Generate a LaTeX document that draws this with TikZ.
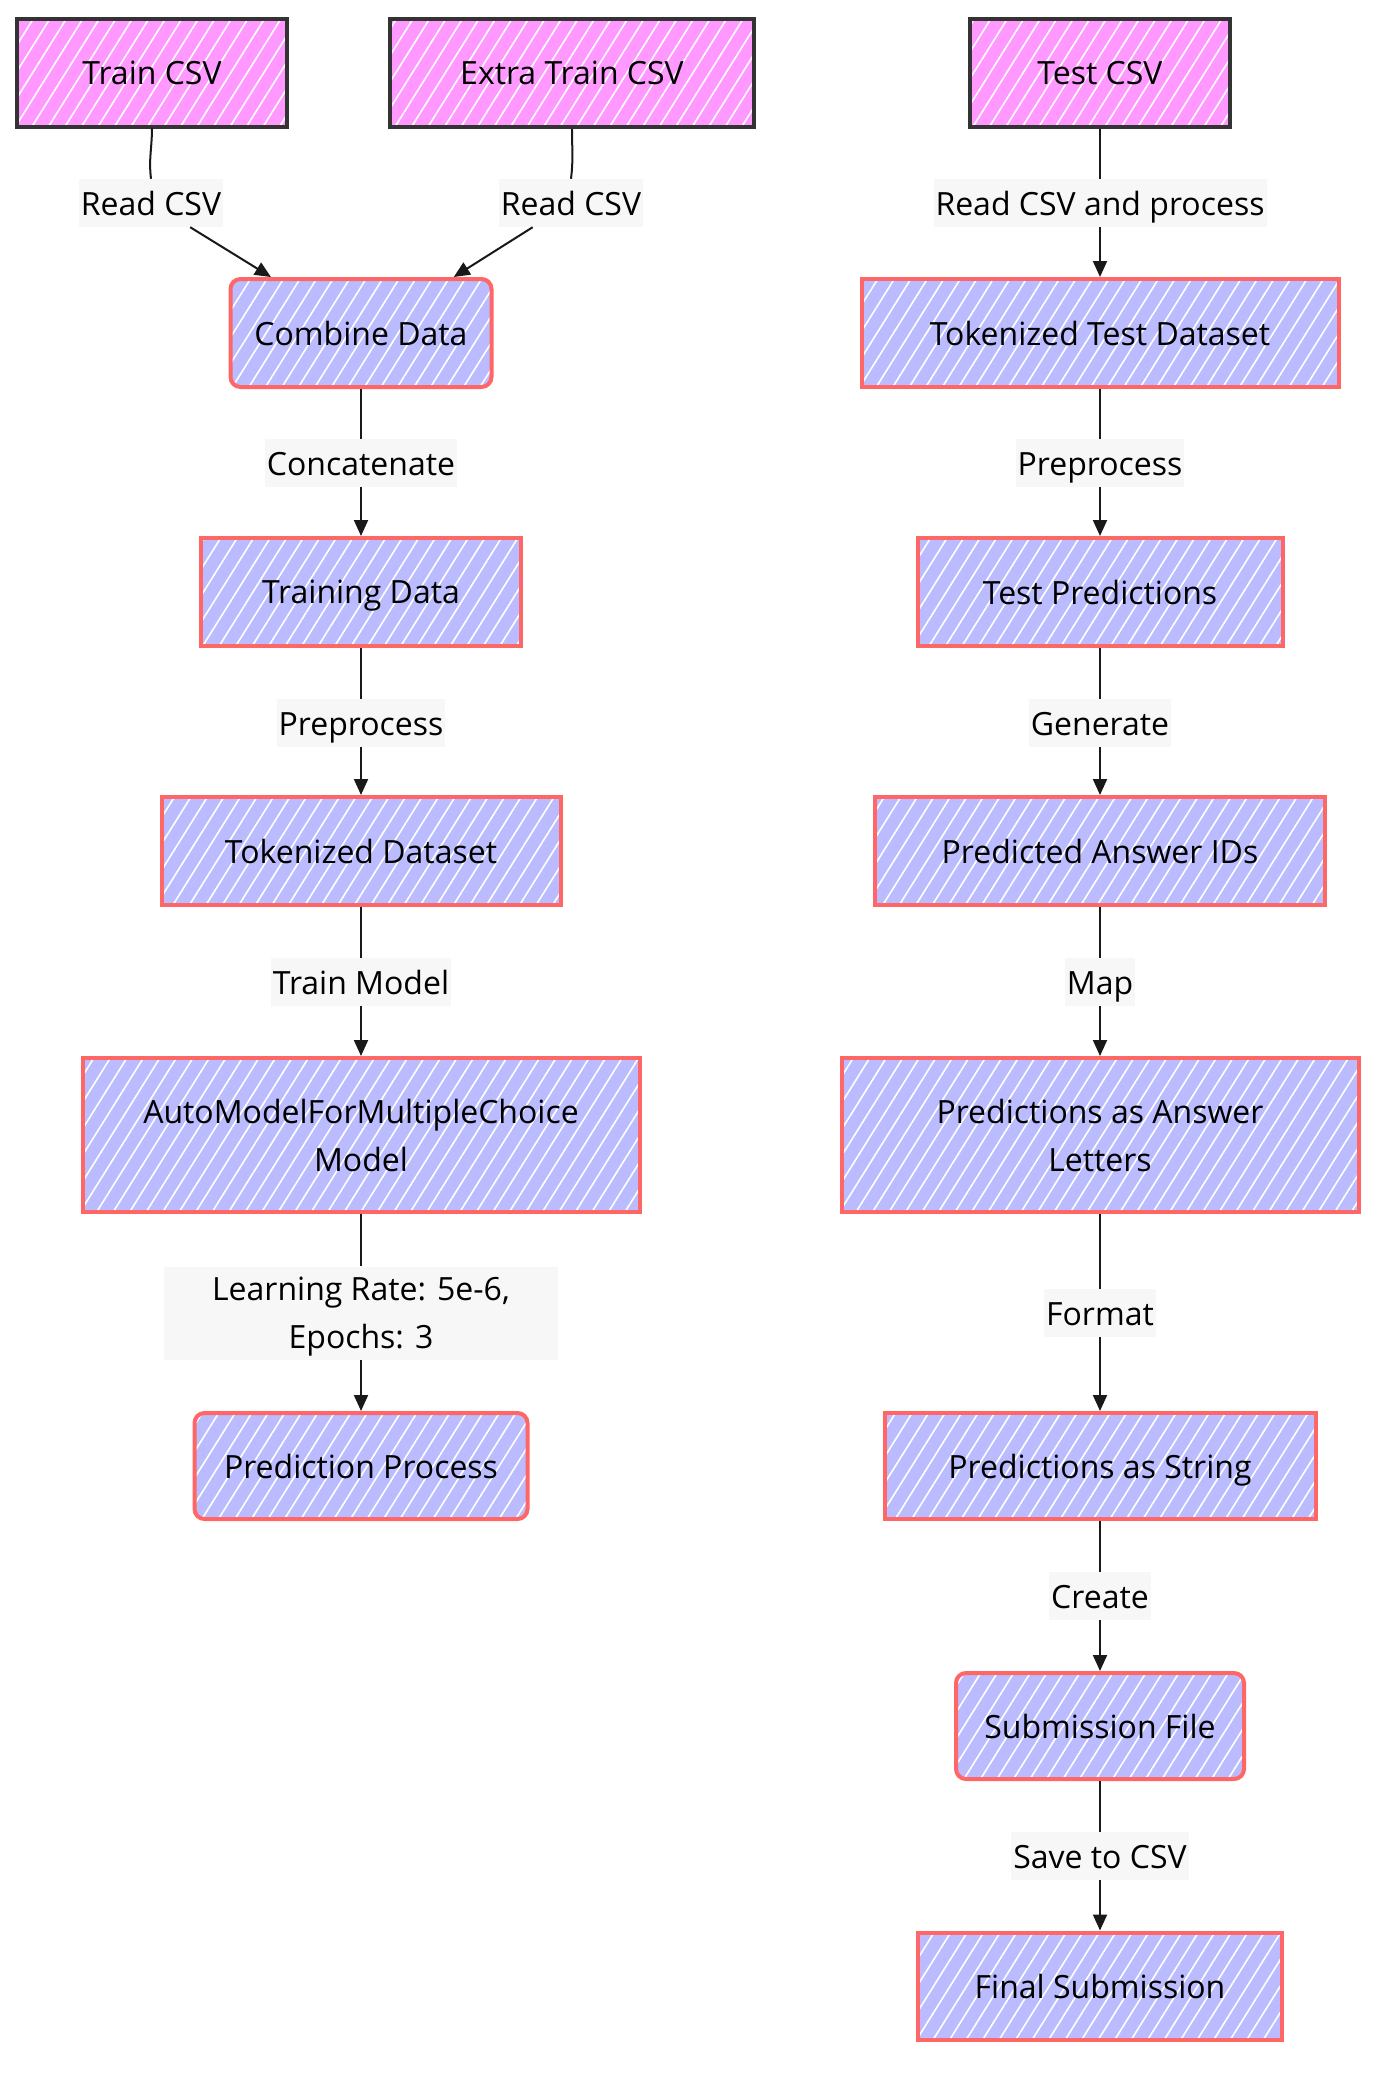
\documentclass[tikz,border=0pt]{standalone}
\usepackage{fontspec}
\setmainfont{Open Sans}
\usetikzlibrary{arrows.meta,patterns.meta,calc}
\definecolor{pinkF}{HTML}{FF99FF}
\definecolor{blueF}{HTML}{BBBBFF}
\definecolor{redS}{HTML}{FF6666}
\definecolor{darkS}{HTML}{333333}
\definecolor{lblbg}{HTML}{F7F7F7}
\tikzset{
 base/.style={draw, line width=4pt, minimum height=108pt, inner sep=0pt, align=center,
   font=\fontsize{32}{48}\selectfont, text depth=0pt,
   pattern={Lines[angle=58,distance=14pt,line width=1.6pt]}, pattern color=white},
 src/.style={base, preaction={fill=pinkF}, draw=darkS},
 proc/.style={base, preaction={fill=blueF}, draw=redS},
 rproc/.style={proc, rounded corners=10pt},
 lbl/.style={fill=lblbg, font=\fontsize{32}{48}\selectfont, inner xsep=2pt, inner ysep=8pt,
   text height=28pt, text depth=4pt},
 lbltwo/.style={fill=lblbg, font=\fontsize{32}{48}\selectfont, inner ysep=7pt, align=center,
   text height=75pt, text depth=4pt},
 edge/.style={line width=2pt, draw=black!90},
 arr/.style={edge, -{Triangle[length=16pt,width=14pt]}},
}
\begin{document}
\begin{tikzpicture}[x=1pt,y=-1pt]
\useasboundingbox (0,0) rectangle (1392,2080);
% source nodes
\node[src, minimum width=270pt] (tcsv) at (152,73) {Train CSV};
\node[src, minimum width=364pt] (ecsv) at (572,73) {Extra Train CSV};
\node[src, minimum width=260pt] (testcsv) at (1100,73) {Test CSV};
% left column
\node[rproc, minimum width=261pt] (combine) at (361,333) {Combine Data};
\node[proc, minimum width=320pt] (training) at (361,592) {Training Data};
\node[proc, minimum width=399pt] (tokds) at (361,851) {Tokenized Dataset};
\node[proc, minimum width=557pt, minimum height=154pt] (automodel) at (361,1135) {AutoModelForMultipleChoice\\Model};
\node[rproc, minimum width=333pt, minimum height=106pt] (predproc) at (361,1466) {Prediction Process};
% right column
\node[proc, minimum width=477pt] (toktest) at (1100,333) {Tokenized Test Dataset};
\node[proc, minimum width=365pt] (testpred) at (1100,592) {Test Predictions};
\node[proc, minimum width=450pt] (predids) at (1100,851) {Predicted Answer IDs};
\node[proc, minimum width=517pt, minimum height=154pt] (letters) at (1100,1135) {Predictions as Answer\\Letters};
\node[proc, minimum width=431pt, minimum height=106pt] (predstr) at (1100,1466) {Predictions as String};
\node[rproc, minimum width=288pt, minimum height=106pt] (subfile) at (1100,1726) {Submission File};
\node[proc, minimum width=364pt, minimum height=107pt] (final) at (1100,1986) {Final Submission};
% labels
\node[lbl] (l1) at (151,203) {Read CSV};
\node[lbl] (l2) at (571,203) {Read CSV};
\node[lbl] (l3) at (1100,203) {Read CSV and process};
\node[lbl] (l4) at (361,463) {Concatenate};
\node[lbl] (l5) at (361,723) {Preprocess};
\node[lbl] (l6) at (361,982) {Train Model};
\node[lbltwo, minimum width=394pt] (l7) at (361,1313) {Learning Rate: 5e-6,\\Epochs: 3};
\node[lbl] (r1) at (1100,463) {Preprocess};
\node[lbl] (r2) at (1100,723) {Generate};
\node[lbl] (r3) at (1100,982) {Map};
\node[lbl] (r4) at (1100,1313) {Format};
\node[lbl] (r5) at (1100,1596) {Create};
\node[lbl] (r6) at (1100,1856) {Save to CSV};
% edges
\draw[edge] (tcsv.south) to[out=-90,in=97] (l1.north);
\draw[arr] (l1) -- ($(combine.north west)!0.16!(combine.north east)$);
\draw[edge] (ecsv.south) to[out=-90,in=83] (l2.north);
\draw[arr] (l2) -- ($(combine.north west)!0.85!(combine.north east)$);
\draw[edge] (testcsv) -- (l3);
\draw[arr] (l3) -- (toktest);
\draw[edge] (combine) -- (l4);
\draw[arr] (l4) -- (training);
\draw[edge] (training) -- (l5);
\draw[arr] (l5) -- (tokds);
\draw[edge] (tokds) -- (l6);
\draw[arr] (l6) -- (automodel);
\draw[edge] (automodel) -- (l7);
\draw[arr] (l7) -- (predproc);
\draw[edge] (toktest) -- (r1);
\draw[arr] (r1) -- (testpred);
\draw[edge] (testpred) -- (r2);
\draw[arr] (r2) -- (predids);
\draw[edge] (predids) -- (r3);
\draw[arr] (r3) -- (letters);
\draw[edge] (letters) -- (r4);
\draw[arr] (r4) -- (predstr);
\draw[edge] (predstr) -- (r5);
\draw[arr] (r5) -- (subfile);
\draw[edge] (subfile) -- (r6);
\draw[arr] (r6) -- (final);
\end{tikzpicture}
\end{document}
